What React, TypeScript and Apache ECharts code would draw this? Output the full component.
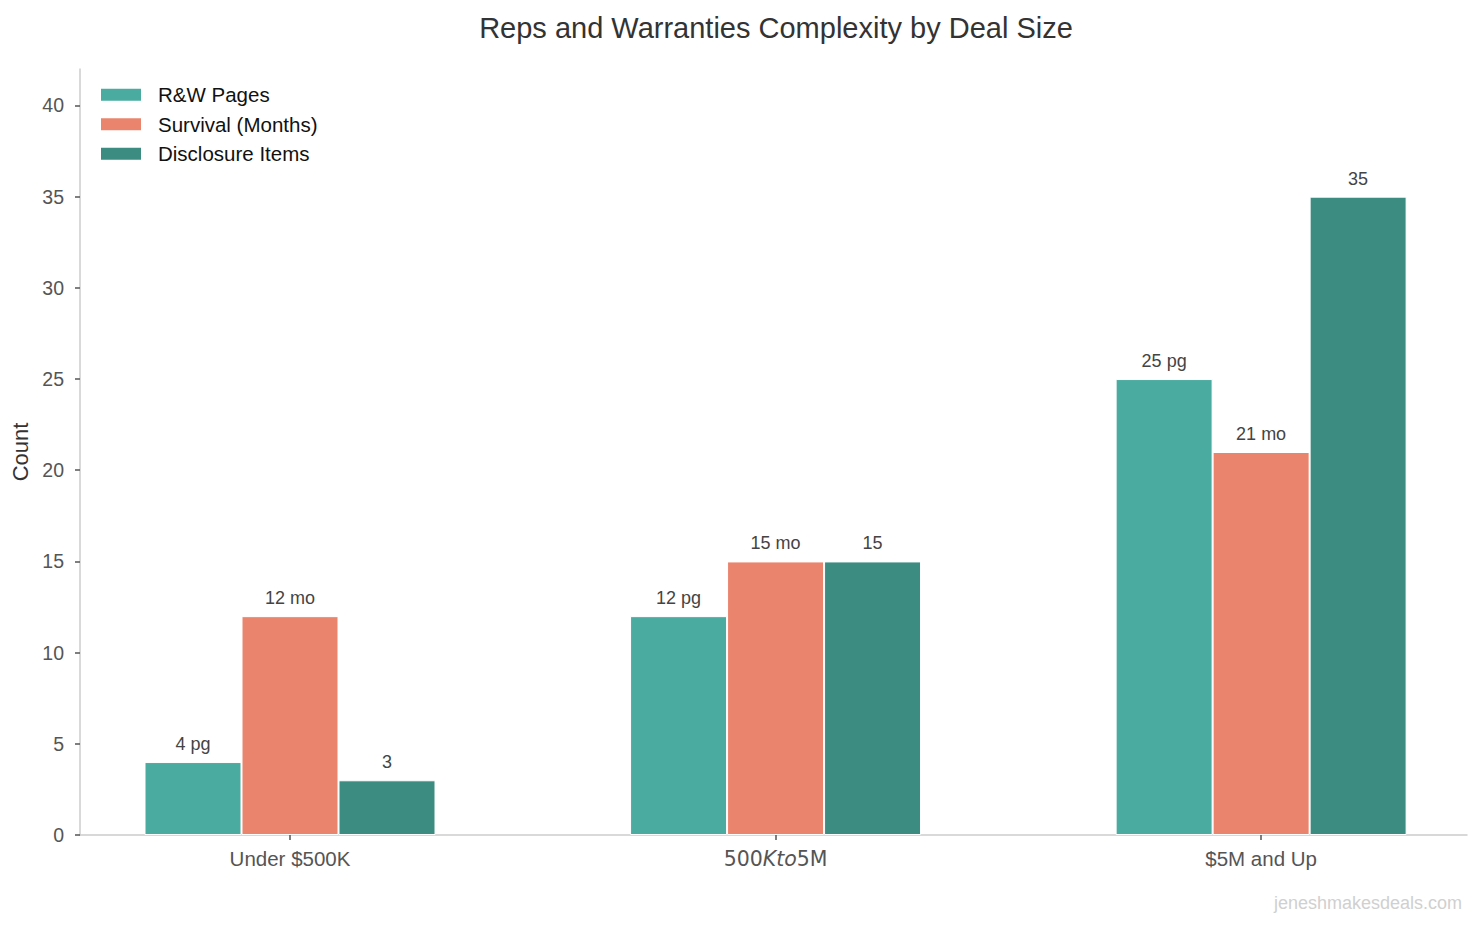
import React, { useEffect, useRef } from "react";
import * as echarts from "echarts";

const categories = ["Under $500K", "$500K to $5M", "$5M and Up"];
const seriesNames = ["R&W Pages", "Survival (Months)", "Disclosure Items"];
const rwPages = [4, 12, 25];
const survivalMonths = [12, 15, 21];
const disclosureItems = [3, 15, 35];
const labelSuffixes = [" pg", " mo", ""];
const yTicks = [0, 5, 10, 15, 20, 25, 30, 35, 40];
const colors = ["#4aaba0", "#ea846c", "#3c8c82"];

const FONT = "'Liberation Sans', Arial, Helvetica, sans-serif";

export default function App() {
  const ref = useRef<HTMLDivElement>(null);
  useEffect(() => {
    if (!ref.current) return;
    const chart = echarts.init(ref.current, undefined, { renderer: "svg" });
    const allValues = [rwPages, survivalMonths, disclosureItems];
    const series = allValues.map((vals, si) => ({
      name: seriesNames[si],
      type: "bar",
      data: vals.map((v, i) => [i, v]),
      barWidth: 97,
      barGap: "0%",
      itemStyle: { color: colors[si], borderColor: "#ffffff", borderWidth: 1 },
      label: {
        show: true,
        position: "top",
        distance: 9,
        fontFamily: FONT,
        fontSize: 18,
        color: "#444444",
        formatter: (p: any) => `${p.value[1]}${labelSuffixes[si]}`,
      },
    }));
    chart.setOption({
      animation: false,
      backgroundColor: "#ffffff",
      textStyle: { fontFamily: FONT },
      graphic: [
        {
          type: "text",
          x: 776,
          y: 28,
          style: {
            text: "Reps and Warranties Complexity by Deal Size",
            fontFamily: FONT,
            fontSize: 29,
            fill: "#333333",
            textAlign: "center",
            textVerticalAlign: "middle",
          },
        },
        {
          type: "text",
          x: 1462,
          y: 903,
          style: {
            text: "jeneshmakesdeals.com",
            fontFamily: FONT,
            fontSize: 18,
            fill: "#d0d0d0",
            textAlign: "right",
            textVerticalAlign: "middle",
          },
        },
      ],
      legend: {
        orient: "vertical",
        left: 94,
        top: 79,
        icon: "rect",
        itemWidth: 42,
        itemHeight: 14,
        itemGap: 8,
        data: seriesNames,
        textStyle: {
          fontFamily: FONT,
          fontSize: 20.5,
          color: "#111111",
          lineHeight: 21.5,
          padding: [0, 0, 0, 11],
        },
      },
      grid: { left: 80, right: 17, top: 69, bottom: 91, containLabel: false },
      xAxis: {
        type: "value",
        min: -0.4325,
        max: 2.424,
        splitLine: { show: false },
        axisLine: { show: true, onZero: false, lineStyle: { color: "#cccccc", width: 1.5 } },
        axisTick: {
          show: true,
          length: 5,
          lineStyle: { color: "#555555", width: 1.5 },
          customValues: [0, 1, 2],
        },
        axisLabel: {
          show: true,
          margin: 13,
          fontFamily: FONT,
          fontSize: 20.5,
          color: "#555555",
          customValues: [0, 1, 2],
          formatter: (v: number) => {
            const i = Math.round(v);
            if (i === 1) return "{n|500}{i|Kto}{n|5M}";
            return categories[i] ?? "";
          },
          rich: {
            n: { fontFamily: "'DejaVu Sans', sans-serif", fontSize: 20.5, color: "#555555" },
            i: { fontFamily: "'DejaVu Sans', sans-serif", fontSize: 20.5, fontStyle: "italic", color: "#555555" },
          },
        },
      },
      yAxis: {
        type: "value",
        min: 0,
        max: 42,
        interval: 5,
        name: "Count",
        nameLocation: "middle",
        nameGap: 47,
        nameRotate: 90,
        nameTextStyle: { fontFamily: FONT, fontSize: 22, color: "#333333" },
        splitLine: { show: false },
        axisLine: { show: true, onZero: false, lineStyle: { color: "#cccccc", width: 1.5 } },
        axisTick: {
          show: true,
          length: 5,
          lineStyle: { color: "#555555", width: 1.5 },
          customValues: yTicks,
        },
        axisLabel: {
          margin: 16,
          fontFamily: FONT,
          fontSize: 19.5,
          color: "#555555",
          customValues: yTicks,
          formatter: (v: number) => String(v),
        },
      },
      series,
    });
    return () => chart.dispose();
  }, []);
  return (
    <div
      ref={ref}
      style={{ position: "fixed", left: 0, top: 0, width: 1484, height: 926 }}
    />
  );
}
